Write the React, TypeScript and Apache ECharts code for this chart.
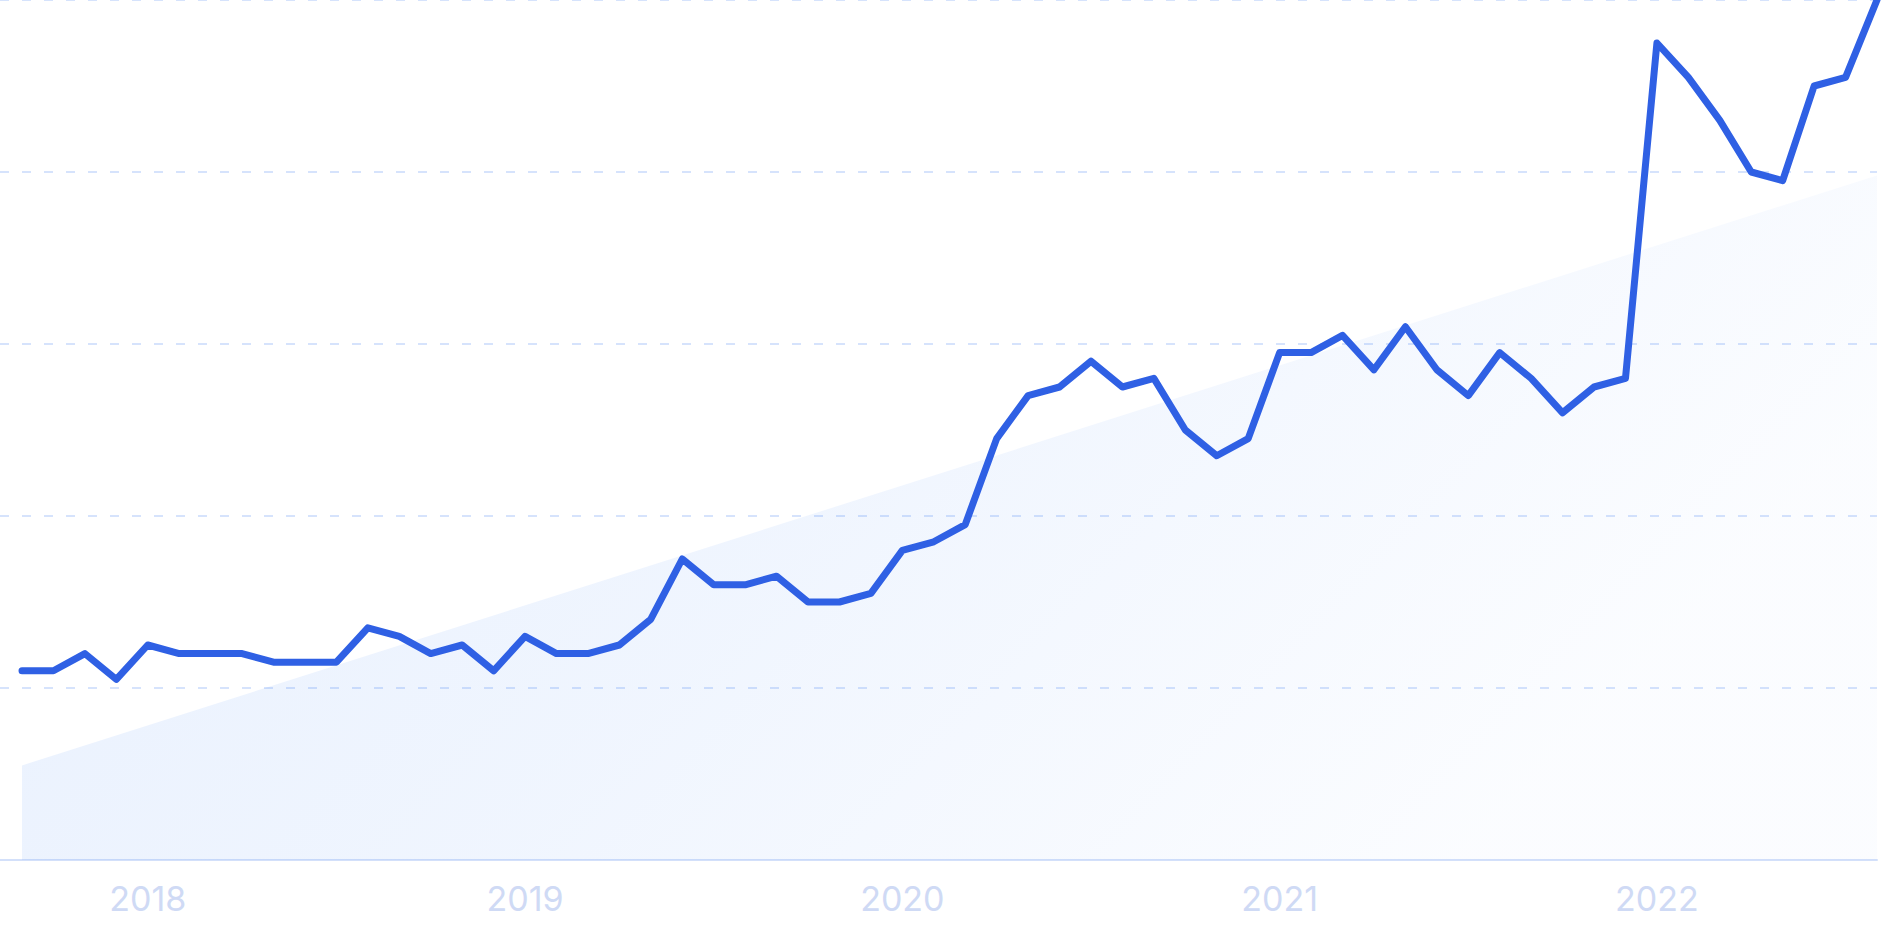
import React, { useEffect, useRef } from "react";
import * as echarts from "echarts";

// Monthly interest values (Sep 2017 – Aug 2022)
const months: string[] = [
  "2017-09", "2017-10", "2017-11", "2017-12",
  "2018-01", "2018-02", "2018-03", "2018-04", "2018-05", "2018-06", "2018-07", "2018-08", "2018-09", "2018-10", "2018-11", "2018-12",
  "2019-01", "2019-02", "2019-03", "2019-04", "2019-05", "2019-06", "2019-07", "2019-08", "2019-09", "2019-10", "2019-11", "2019-12",
  "2020-01", "2020-02", "2020-03", "2020-04", "2020-05", "2020-06", "2020-07", "2020-08", "2020-09", "2020-10", "2020-11", "2020-12",
  "2021-01", "2021-02", "2021-03", "2021-04", "2021-05", "2021-06", "2021-07", "2021-08", "2021-09", "2021-10", "2021-11", "2021-12",
  "2022-01", "2022-02", "2022-03", "2022-04", "2022-05", "2022-06", "2022-07", "2022-08",
];

const interest: number[] = [
  22, 22, 24, 21,
  25, 24, 24, 24, 23, 23, 23, 27, 26, 24, 25, 22,
  26, 24, 24, 25, 28, 35, 32, 32, 33, 30, 30, 31,
  36, 37, 39, 49, 54, 55, 58, 55, 56, 50, 47, 49,
  59, 59, 61, 57, 62, 57, 54, 59, 56, 52, 55, 56,
  95, 91, 86, 80, 79, 90, 91, 100,
];

// Trend line: value at first and last month
const trendStart = 11;
const trendEnd = 79.6;

const yTicks: number[] = [0, 20, 40, 60, 80, 100];

export default function App() {
  const ref = useRef<HTMLDivElement>(null);

  useEffect(() => {
    if (!ref.current) return;
    const chart = echarts.init(ref.current, undefined, { renderer: "svg" });

    const lineData = interest.map((v, i) => [i, v]);
    const trendData = [
      [0, trendStart],
      [months.length - 1, trendEnd],
    ];
    const yearIdx = months
      .map((m, i) => (m.endsWith("-01") ? i : -1))
      .filter((i) => i >= 0);

    chart.setOption({
      animation: false,
      grid: { left: 0, right: 6, top: 0, bottom: 81, containLabel: false },
      xAxis: {
        type: "value",
        min: -0.7,
        max: months.length - 1,
        axisLine: { show: true, lineStyle: { color: "#d3e0fa", width: 2 } },
        axisTick: { show: false },
        splitLine: { show: false },
        axisLabel: {
          customValues: yearIdx,
          formatter: (v: number) => months[Math.round(v)]?.slice(0, 4) ?? "",
          color: "#cfdaf5",
          fontFamily: "Inter",
          fontSize: 34,
          margin: 21,
        },
      },
      yAxis: {
        type: "value",
        min: yTicks[0],
        max: yTicks[yTicks.length - 1],
        interval: 20,
        axisLine: { show: false },
        axisTick: { show: false },
        axisLabel: { show: false },
        splitLine: {
          show: true,
          lineStyle: { color: "#d6e3fc", width: 2, type: [9, 13] },
        },
      },
      series: [
        {
          type: "line",
          data: trendData,
          symbol: "none",
          silent: true,
          lineStyle: { width: 0, opacity: 0 },
          areaStyle: {
            origin: "start",
            color: new echarts.graphic.LinearGradient(0, 0, 1, 0.35, [
              { offset: 0, color: "rgba(59,130,246,0.17)" },
              { offset: 0.5, color: "rgba(59,130,246,0.115)" },
              { offset: 1, color: "rgba(59,130,246,0.03)" },
            ]),
          },
          z: 1,
        },
        {
          type: "line",
          data: lineData,
          symbol: "none",
          lineStyle: { color: "#2f60e4", width: 7, cap: "round", join: "round" },
          z: 3,
        },
      ],
    });

    return () => chart.dispose();
  }, []);

  return (
    <div
      ref={ref}
      style={{ position: "fixed", left: 0, top: 0, width: 1883, height: 941, background: "#fff" }}
    />
  );
}
